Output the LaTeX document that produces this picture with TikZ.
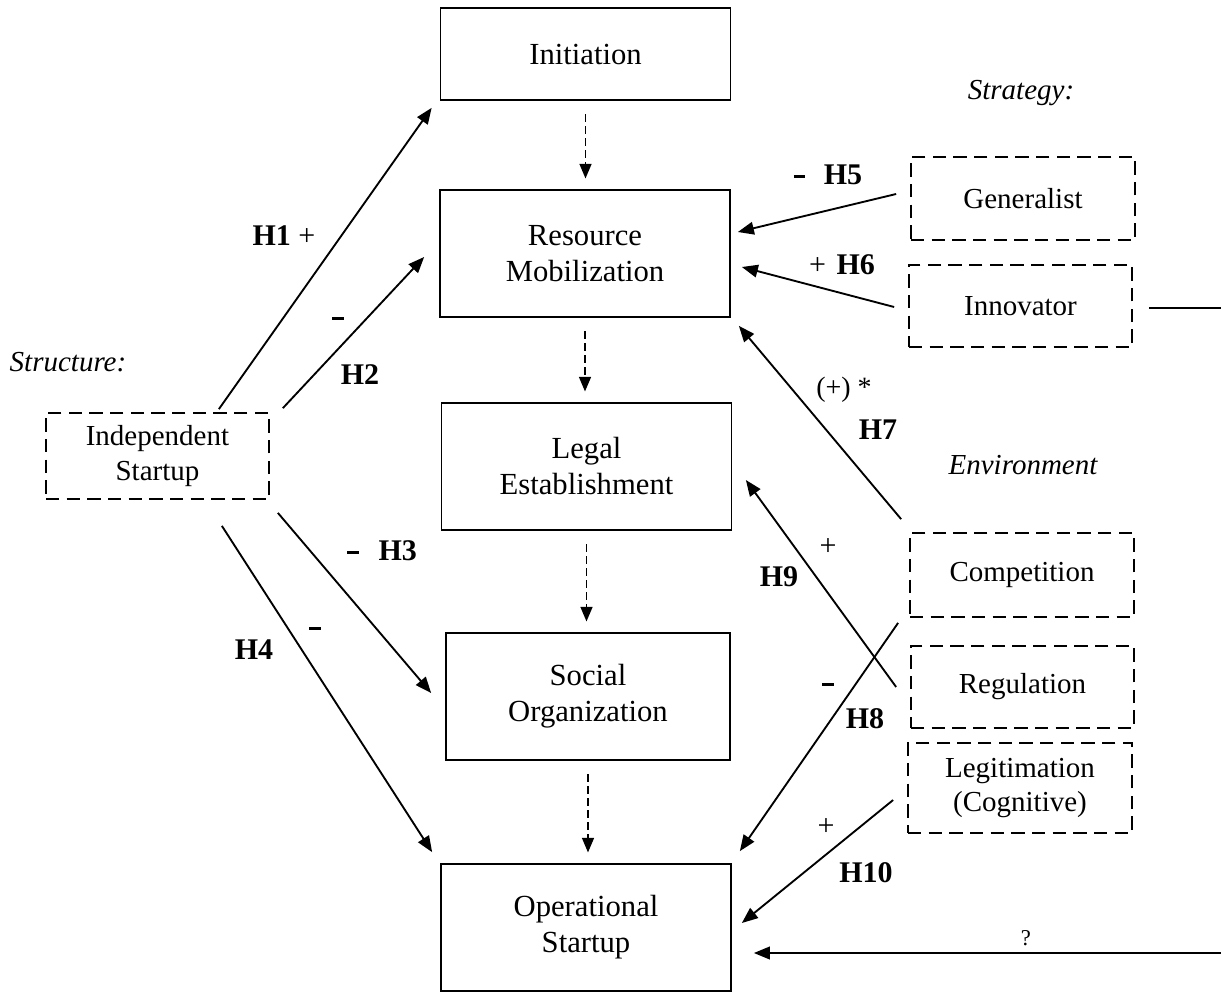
\documentclass[tikz,border=0pt]{standalone}
\usepackage{fontspec}
\setmainfont{Liberation Serif}
\usetikzlibrary{arrows.meta}
\newcommand{\negsign}{\rule[0.22em]{8.5pt}{2.4pt}}
\begin{document}
\begin{tikzpicture}[x=0.75pt,y=-0.75pt,
  cbox/.style={draw, line width=1.3pt, inner sep=0pt, align=center,
    font=\fontsize{23}{27}\selectfont, minimum width=217.5pt, minimum height=95.25pt},
  dbox/.style={draw, line width=1.3pt, dash pattern=on 10pt off 5.5pt, inner sep=0pt,
    align=center, font=\fontsize{21.75}{26}\selectfont, minimum width=168pt},
  arr/.style={line width=1.4pt, -{Triangle[length=12pt,width=9.5pt]}},
  darr/.style={line width=1.2pt, dash pattern=on 6pt off 3pt,
    -{Triangle[length=11pt,width=9pt]}, shorten <=10pt, shorten >=8pt},
  plain/.style={line width=1.4pt},
  lbl/.style={inner sep=0pt, font=\fontsize{22.5}{26}\selectfont},
  hyp/.style={inner sep=0pt, font=\fontsize{22.5}{26}\selectfont\bfseries},
  cat/.style={inner sep=0pt, font=\fontsize{21.75}{26}\selectfont\itshape}]
\useasboundingbox[fill=white] (0,0) rectangle (1221,992);

% central process boxes
\node[cbox, minimum height=69pt] (init) at (585.5,54) {Initiation};
\node[cbox] (res) at (585,253.5) {Resource\\Mobilization};
\node[cbox] (legal) at (586.5,466.5) {Legal\\Establishment};
\node[cbox, minimum width=213pt] (soc) at (588,696.5) {Social\\Organization};
\node[cbox] (op) at (586,927.5) {Operational\\Startup};

% dashed factor boxes
\node[dbox, minimum width=167.25pt, minimum height=64.5pt] (ind) at (157.5,456) {Independent\\Startup};
\node[dbox, minimum height=62.25pt] (gen) at (1023,198.5) {Generalist};
\node[dbox, minimum width=167.25pt, minimum height=61.5pt] (inn) at (1020.5,306) {Innovator};
\node[dbox, minimum height=63pt] (comp) at (1022,575) {Competition};
\node[dbox, minimum width=167.25pt, minimum height=61.5pt] (reg) at (1022.5,687) {Regulation};
\node[dbox, minimum height=67.5pt] (legit) at (1020,788) {Legitimation\\(Cognitive)};

% category labels
\node[cat] (lstruct) at (68,362) {Structure:};
\node[cat] (lstrat) at (1021,93) {Strategy:};
\node[cat] (lenv) at (1023,465) {Environment};

% process flow
\draw[darr] (init.south) -- (init.south |- res.north);
\draw[darr] (res.south) -- (res.south |- legal.north);
\draw[darr] (legal.south) -- (legal.south |- soc.north);
\draw[darr] (soc.south) -- (soc.south |- op.north);

% structure hypotheses
\draw[arr] ([shift={(-51,-3)}]ind.north east) -- ([shift={(-8,7)}]init.south west);
\draw[arr] ([shift={(13,-4)}]ind.north east) -- ([shift={(-15,3.5)}]res.west);
\draw[arr] ([shift={(8,13)}]ind.south east) -- ([shift={(-14,-3.5)}]soc.west);
\draw[arr] ([shift={(-48,26)}]ind.south east) -- ([shift={(-8,-11)}]op.north west);

% strategy hypotheses
\draw[arr] ([shift={(-14,-4.5)}]gen.west) -- ([shift={(7,-21.5)}]res.east);
\draw[arr] ([shift={(-14,1)}]inn.west) -- ([shift={(11,13.5)}]res.east);
\coordinate (innend) at (1221,308);
\draw[plain] ([shift={(16,2)}]inn.east) -- (innend);

% environment hypotheses
\draw[arr] ([shift={(-8,-13)}]comp.north west) -- ([shift={(8,8)}]res.south east);
\draw[arr] ([shift={(-14,0)}]reg.west) -- ([shift={(13.5,13.5)}]legal.east);
\draw[arr] ([shift={(-11,5)}]comp.south west) -- ([shift={(8,-12)}]op.north east);
\draw[arr] ([shift={(-14,12)}]legit.west) -- ([shift={(10,-4.5)}]op.east);
\coordinate (qstart) at (1221,953);
\draw[arr] (qstart) -- ([shift={(22,25.5)}]op.east);

% hypothesis labels
\node[lbl] (h1) at (284,236) {\textbf{H1} +};
\node[hyp] (s2) at (338,322) {\negsign};
\node[hyp] (h2) at (360,375) {H2};
\node[hyp] (h3) at (382,551) {\negsign\hspace{15pt}H3};
\node[hyp] (s4) at (315,632) {\negsign};
\node[hyp] (h4) at (254,650) {H4};
\node[hyp] (h5) at (828,175) {\negsign\hspace{14pt}H5};
\node[lbl] (h6) at (842,265) {+\hspace{8pt}\textbf{H6}};
\node[lbl, font=\fontsize{21}{24}\selectfont] (s7) at (844,390) {(+) *};
\node[hyp] (h7) at (878,430) {H7};
\node[lbl] (s9) at (828,547) {+};
\node[hyp] (h9) at (779,577) {H9};
\node[hyp] (s8) at (828,688) {\negsign};
\node[hyp] (h8) at (865,719) {H8};
\node[lbl] (s10) at (826,827) {+};
\node[hyp] (h10) at (866,873) {H10};
\node[lbl, font=\fontsize{17}{20}\selectfont] (q) at (1026,938) {?};
\end{tikzpicture}
\end{document}
